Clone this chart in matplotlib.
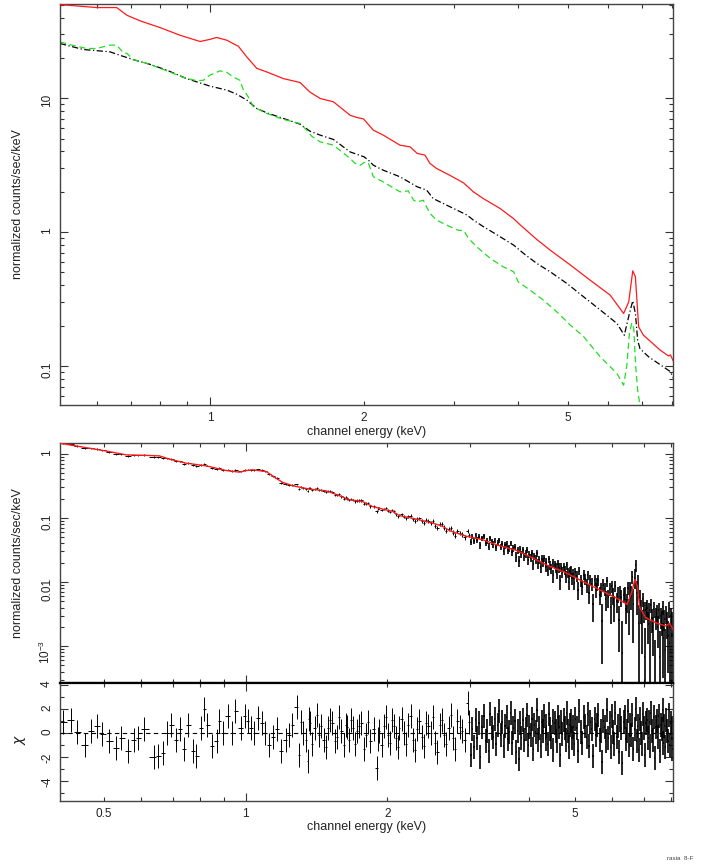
import numpy as np
import matplotlib
matplotlib.use('Agg')
import matplotlib.pyplot as plt
from matplotlib.ticker import FixedLocator, FuncFormatter, NullFormatter

plt.rcParams['font.family'] = ['Liberation Sans', 'DejaVu Sans']
plt.rcParams['mathtext.fontset'] = 'custom'
plt.rcParams['mathtext.rm'] = 'Liberation Sans'

# ---------------- top panel: model components ----------------
red_E = [0.509, 0.60, 0.657, 0.688, 0.730, 0.798, 0.874, 0.956, 1.0, 1.03, 1.078, 1.136, 1.18, 1.234,
         1.291, 1.391, 1.499, 1.568, 1.641, 1.742, 1.878, 1.935, 1.995, 2.085, 2.18, 2.35, 2.46, 2.54,
         2.63, 2.69, 2.77, 2.94, 3.13, 3.27, 3.42, 3.69, 3.92, 4.04, 4.35, 4.62, 5.06, 5.53, 6.05,
         6.43, 6.58, 6.70, 6.78, 6.88, 7.03, 7.58, 7.87, 7.94, 8.05]
red_v = [50.0, 47.5, 47.5, 41.6, 37.8, 33.7, 29.5, 26.5, 27.5, 28.4, 27.1, 24.4, 20.3, 16.7,
         15.7, 14.0, 13.1, 11.1, 9.95, 9.4, 7.46, 7.18, 7.0, 5.77, 5.3, 4.46, 4.33, 3.87,
         3.76, 3.26, 2.99, 2.66, 2.33, 2.0, 1.78, 1.50, 1.26, 1.13, 0.882, 0.734, 0.568, 0.438, 0.339,
         0.247, 0.302, 0.514, 0.464, 0.196, 0.170, 0.1315, 0.119, 0.121, 0.108]

blk_E = [0.509, 0.565, 0.637, 0.667, 0.708, 0.763, 0.823, 0.900, 1.0, 1.078, 1.128, 1.18, 1.234, 1.291,
         1.391, 1.499, 1.568, 1.641, 1.742, 1.878, 2.0, 2.04, 2.085, 2.18, 2.35, 2.54, 2.65, 2.73, 2.94,
         3.18, 3.27, 3.42, 3.69, 3.92, 4.10, 4.35, 4.62, 4.98, 5.37, 5.79, 6.24, 6.45, 6.60, 6.70, 6.78,
         6.85, 6.92, 7.2, 7.68, 7.93, 8.05]
blk_v = [25.6, 23.1, 22.2, 20.9, 19.4, 17.9, 16.2, 14.0, 12.3, 11.5, 10.7, 9.67, 8.38, 7.77,
         7.06, 6.40, 5.67, 5.30, 4.92, 3.97, 3.65, 3.44, 3.16, 2.90, 2.59, 2.18, 2.06, 1.78, 1.55,
         1.34, 1.23, 1.10, 0.923, 0.80, 0.693, 0.584, 0.506, 0.414, 0.329, 0.262, 0.208, 0.170, 0.247,
         0.307, 0.247, 0.156, 0.135, 0.117, 0.099, 0.091, 0.081]

grn_E = [0.509, 0.537, 0.574, 0.60, 0.637, 0.657, 0.677, 0.688, 0.708, 0.763, 0.823, 0.887, 0.942, 0.970,
         1.0, 1.046, 1.078, 1.11, 1.144, 1.161, 1.188, 1.215, 1.291, 1.391, 1.499, 1.545, 1.58, 1.641,
         1.742, 1.878, 1.92, 1.965, 2.01, 2.04, 2.085, 2.18, 2.35, 2.44, 2.50, 2.54, 2.61, 2.69, 2.77,
         2.94, 3.06, 3.13, 3.20, 3.32, 3.53, 3.74, 3.86, 3.92, 4.0, 4.22, 4.48, 4.76, 5.06, 5.37, 5.79,
         6.24, 6.43, 6.52, 6.60, 6.67, 6.73, 6.79, 6.85, 6.92, 6.97]
grn_v = [26.3, 24.9, 23.5, 23.5, 24.9, 24.9, 21.8, 21.6, 19.4, 17.9, 16.0, 14.3, 13.5, 13.6,
         14.9, 16.0, 15.6, 14.4, 13.6, 11.6, 10.2, 8.61, 7.69, 6.94, 6.47, 5.77, 5.20, 4.72,
         4.46, 3.55, 3.26, 3.16, 3.35, 3.26, 2.59, 2.37, 2.0, 2.03, 1.73, 1.68, 1.73, 1.38, 1.23,
         1.10, 1.03, 1.03, 0.897, 0.777, 0.636, 0.551, 0.52, 0.506, 0.426, 0.369, 0.311, 0.254, 0.202,
         0.166, 0.117, 0.088, 0.072, 0.099, 0.175, 0.210, 0.191, 0.099, 0.066, 0.051, 0.03]

# ---------------- middle panel: folded model ----------------
mod_E = [0.404, 0.445, 0.499, 0.559, 0.606, 0.657, 0.690, 0.749, 0.825, 0.910, 0.971, 1.003, 1.036,
         1.106, 1.16, 1.20, 1.26, 1.367, 1.48, 1.53, 1.66, 1.77, 1.86, 1.95, 2.05, 2.12, 2.30, 2.49,
         2.62, 2.71, 2.94, 3.18, 3.45, 3.75, 4.06, 4.41, 4.78, 5.18, 5.62, 6.10, 6.45, 6.59, 6.70,
         6.78, 6.86, 7.06, 7.41, 7.79, 7.94, 8.07]
mod_v = [1.47, 1.30, 1.13, 0.965, 0.953, 0.931, 0.827, 0.716, 0.651, 0.550, 0.519, 0.550, 0.564,
         0.531, 0.419, 0.358, 0.318, 0.282, 0.266, 0.245, 0.193, 0.181, 0.151, 0.138, 0.127, 0.109,
         0.0964, 0.0836, 0.0741, 0.0634, 0.0518, 0.046, 0.0371, 0.0314, 0.0239, 0.0177, 0.0140,
         0.0103, 0.00767, 0.0057, 0.00449, 0.00682, 0.011, 0.00863, 0.00398, 0.00279, 0.00233,
         0.00206, 0.00227, 0.00183]

# ---------------- residuals (chi) ----------------
res_E_lo = [0.409, 0.427, 0.438, 0.456, 0.471, 0.485, 0.497, 0.514, 0.531, 0.545,
            0.563, 0.579, 0.592, 0.608, 0.639, 0.653, 0.668, 0.682, 0.694, 0.713,
            0.725, 0.741, 0.756, 0.773, 0.786, 0.804, 0.818, 0.830, 0.849, 0.868,
            0.877, 0.896, 0.916, 0.936, 0.952, 0.978, 0.995, 1.010, 1.026, 1.044,
            1.062, 1.086, 1.102, 1.119, 1.144, 1.164, 1.190, 1.216, 1.237, 1.256,
            1.284, 1.299, 1.327, 1.356, 1.371, 1.401, 1.432, 1.464, 1.496, 1.529,
            1.563, 1.597, 1.633, 1.657, 1.687, 1.724, 1.762, 1.800, 1.840, 1.901,
            1.922, 1.965, 2.008, 2.043, 2.088, 2.120, 2.167, 2.215, 2.264, 2.314,
            2.365, 2.417, 2.471, 2.525, 2.581, 2.638, 2.696, 2.755, 2.816, 2.878,
            2.960, 3.006]
res_chi_lo = [0.9, 1.1, 0.1, -1.0, 0.15, 0.6, -0.05, -0.65, -1.25, -0.4,
              -1.5, -0.55, -0.4, 0.3, -2.0, -1.95, -1.7, 0.0, 0.7, -0.55,
              0.3, -1.3, 0.7, -1.5, -1.9, 0.45, 2.0, 0.7, -1.1, -0.7,
              1.0, 0.0, 1.4, 0.0, 1.8, 0.4, 1.4, 1.0, 0.45, 0.0,
              1.25, 0.85, 0.0, -1.0, -0.3, 0.3, -1.5, -0.55, -0.15, 0.7,
              2.2, -1.8, 0.0, -2.35, 0.85, 0.4, -0.15, -0.55, 0.4, 0.85,
              -0.3, 0.15, 0.7, -0.55, 0.4, 0.15, 0.85, -0.15, -0.7, -2.9,
              0.15, 0.55, -0.15, 1.1, -0.4, 0.4, 0.0, 0.7, -0.55, 0.3,
              -0.3, 0.85, 0.0, -0.85, 0.7, -0.15, 0.4, -0.4, 1.0, 0.15,
              2.5, -1.8]

res_E_mid = [1.313, 1.341, 1.363, 1.386, 1.416, 1.448, 1.480, 1.512, 1.546, 1.580,
             1.615, 1.645, 1.672, 1.705, 1.743, 1.781, 1.820, 1.870, 1.911, 1.943,
             1.986, 2.025, 2.065, 2.104, 2.143, 2.191, 2.239, 2.289, 2.339, 2.391,
             2.444, 2.498, 2.553, 2.609, 2.667, 2.725, 2.785, 2.847, 2.919, 2.983]
res_chi_mid = [0.9, -0.6, 1.2, -0.9, 1.5, 0.6, -1.2, 1.1, -0.7, 1.3,
               -1.0, 0.5, 1.1, -0.9, 0.6, -1.3, 0.9, 0.3, -0.5, -1.0,
               1.3, -0.8, 0.6, -1.2, 1.2, -0.9, 1.4, -1.4, 1.0, -1.1,
               0.6, 1.3, -1.6, 1.1, -0.9, 1.5, -1.3, 0.5, -0.6, 0.9]

res_E_hi = [3.03, 3.05, 3.08, 3.10, 3.13, 3.15, 3.18, 3.20, 3.23, 3.25,
            3.28, 3.30, 3.33, 3.35, 3.38, 3.40, 3.43, 3.45, 3.48, 3.50,
            3.53, 3.55, 3.58, 3.60, 3.63, 3.65, 3.68, 3.70, 3.73, 3.75,
            3.78, 3.80, 3.83, 3.85, 3.88, 3.90, 3.93, 3.95, 3.98, 4.00,
            4.03, 4.05, 4.08, 4.10, 4.13, 4.15, 4.18, 4.20, 4.23, 4.25,
            4.28, 4.30, 4.33, 4.35, 4.38, 4.40, 4.43, 4.45, 4.48, 4.50,
            4.53, 4.55, 4.58, 4.60, 4.63, 4.65, 4.68, 4.70, 4.73, 4.75,
            4.78, 4.80, 4.83, 4.85, 4.88, 4.90, 4.93, 4.95, 4.98, 5.01,
            5.04, 5.08, 5.11, 5.15, 5.18, 5.22, 5.25, 5.29, 5.32, 5.36,
            5.39, 5.43, 5.46, 5.50, 5.53, 5.57, 5.60, 5.64, 5.67, 5.71,
            5.74, 5.78, 5.81, 5.85, 5.88, 5.92, 5.95, 5.99, 6.02, 6.06,
            6.09, 6.13, 6.16, 6.20, 6.23, 6.27, 6.30, 6.34, 6.37, 6.41,
            6.44, 6.48, 6.51, 6.55, 6.58, 6.62, 6.65, 6.69, 6.72, 6.76,
            6.79, 6.83, 6.86, 6.90, 6.93, 6.97, 7.00, 7.04, 7.07, 7.11,
            7.14, 7.18, 7.21, 7.25, 7.28, 7.32, 7.35, 7.39, 7.42, 7.46,
            7.49, 7.53, 7.56, 7.60, 7.63, 7.67, 7.70, 7.74, 7.77, 7.81,
            7.84, 7.88, 7.91, 7.95, 7.98, 8.02, 8.05]
res_chi_hi = [0.3, -1.2, 1.1, -0.4, 0.8, -2.0, 0.5, 1.4, -0.7, 0.2,
              -1.5, 1.6, 0.4, -0.3, 1.2, -0.9, 0.7, 1.8, -0.2, 0.9,
              -1.1, 0.6, 1.3, -0.5, 0.1, 1.7, -0.8, 0.4, 1.0, -1.6,
              0.2, -2.2, 0.8, -0.4, 1.1, -0.6, 0.3, 1.5, -1.0, 0.5,
              -0.2, 1.2, -1.3, 0.7, 0.1, 1.9, -0.6, 0.4, -1.1, 0.9,
              0.2, 1.4, -0.5, 0.6, -0.9, 1.6, 0.3, -0.3, 1.0, -1.4,
              0.8, 0.2, -0.7, 1.3, 0.5, -1.8, 0.9, -0.1, 1.1, 0.4,
              -0.6, 1.7, 0.2, -1.2, 0.7, 1.0, -0.4, 0.5, -0.9, 1.2,
              0.4, -1.5, 1.8, 0.1, -0.8, 1.3, 0.6, -0.3, 1.6, -1.1,
              0.9, 0.3, -1.9, 1.2, -0.2, 0.7, 1.5, -0.6, 0.2, -2.4,
              1.0, 0.5, -0.7, 1.9, -0.4, 0.8, -1.2, 1.4, 0.1, -0.9,
              1.7, -0.3, 0.6, -1.6, 1.1, 0.4, -2.5, 0.9, 1.3, -0.5,
              0.2, 1.8, -1.0, 0.7, -0.2, 1.5, -1.3, 0.3, 2.0, -0.7,
              0.6, -1.4, 1.2, 0.0, -0.9, 1.6, 0.4, -1.8, 0.8, 1.1,
              -0.4, 0.9, -1.1, 1.7, 0.2, -0.6, 1.3, -2.1, 0.5, 1.0,
              -0.3, 1.4, -1.5, 0.7, 0.3, 1.9, -0.8, 0.6, -1.2, 1.1,
              0.2, -0.7, 1.5, -1.0, 0.8, 0.4, -1.3]

# fractional 1-sigma error of the data (in middle panel)
err_E = [0.4, 1.0, 2.0, 3.0, 4.0, 5.0, 6.0, 7.0, 8.1]
err_frac = [0.025, 0.03, 0.045, 0.09, 0.14, 0.2, 0.3, 0.42, 0.5]

# ---------------- derived quantities ----------------
res_E = np.array(res_E_lo + res_E_mid + res_E_hi)
res_chi = np.array(res_chi_lo + res_chi_mid + res_chi_hi)
order = np.argsort(res_E)
res_E = res_E[order]
res_chi = res_chi[order]
lE = np.log10(res_E)
mids = 0.5 * (lE[1:] + lE[:-1])
edges = np.concatenate([[lE[0] - (mids[0] - lE[0])], mids, [lE[-1] + (lE[-1] - mids[-1])]])
xlo = res_E - 10 ** edges[:-1]
xhi = 10 ** edges[1:] - res_E

model_at = 10 ** np.interp(lE, np.log10(mod_E), np.log10(mod_v))
frac = np.interp(lE, np.log10(err_E), err_frac)
sigma = frac * model_at
data = np.maximum(model_at + res_chi * sigma, 0.08 * model_at)
ylo = np.minimum(sigma, data - 1e-6)
yhi = sigma
dense = res_E > 3.0

# ---------------- figure ----------------
W, H = 701, 867
fig = plt.figure(figsize=(W / 100, H / 100), dpi=100)
L, R = 60, 673
ax1 = fig.add_axes([L / W, 1 - 405 / H, (R - L) / W, (405 - 4) / H])
ax2 = fig.add_axes([L / W, 1 - 683 / H, (R - L) / W, (683 - 443) / H])
ax3 = fig.add_axes([L / W, 1 - 801 / H, (R - L) / W, (801 - 683) / H])

tc = '#333333'
for ax in (ax1, ax2, ax3):
    for s in ax.spines.values():
        s.set_color('#444444')
        s.set_linewidth(1.0)
    ax.tick_params(which='both', direction='in', top=True, right=True, color=tc,
                   labelsize=8.5, labelcolor='#222222', width=0.8)
    ax.tick_params(which='major', length=6)
    ax.tick_params(which='minor', length=3)
    ax.tick_params(axis='y', which='both', labelrotation=90, pad=5)
    ax.tick_params(axis='x', which='both', pad=5)

ax2.spines['bottom'].set_color('black')
ax2.spines['bottom'].set_linewidth(1.6)
ax3.spines['top'].set_color('black')
ax3.spines['top'].set_linewidth(1.6)


def xlab(v, pos):
    for t, s in ((0.5, '0.5'), (1, '1'), (2, '2'), (5, '5')):
        if abs(v - t) < 1e-6:
            return s
    return ''


# top panel
ax1.plot(red_E, red_v, color='#ff1a1a', lw=0.9, zorder=3)
ax1.plot(blk_E, blk_v, color='black', lw=0.9, ls=(0, (5, 2, 1, 2)), zorder=2)
ax1.plot(grn_E, grn_v, color='#22dd22', lw=0.9, ls=(0, (5, 3)), zorder=2)
ax1.set_xscale('log')
ax1.set_yscale('log')
ax1.set_xlim(0.509, 8.03)
ax1.set_ylim(0.0512, 50.5)
ax1.xaxis.set_major_locator(FixedLocator([1]))
ax1.xaxis.set_minor_locator(FixedLocator([0.6, 0.7, 0.8, 0.9, 2, 3, 4, 5, 6, 7, 8]))
ax1.xaxis.set_major_formatter(FuncFormatter(xlab))
ax1.xaxis.set_minor_formatter(FuncFormatter(xlab))
ax1.yaxis.set_major_locator(FixedLocator([0.1, 1, 10]))
ax1.yaxis.set_minor_locator(FixedLocator([0.06, 0.07, 0.08, 0.09] + [0.1 * k for k in range(2, 10)]
                                         + list(range(2, 10)) + [20, 30, 40, 50]))
ax1.yaxis.set_major_formatter(FuncFormatter(lambda v, p: {0.1: '0.1', 1: '1', 10: '10'}.get(round(v, 3), '')))
ax1.yaxis.set_minor_formatter(NullFormatter())
ax1.set_xlabel('channel energy (keV)', fontsize=9, color='#222222')
ax1.xaxis.set_label_coords(0.5, -0.052)
ax1.set_ylabel('normalized counts/sec/keV', fontsize=9, color='#222222')
ax1.yaxis.set_label_coords(-0.058, 0.5)

# middle panel
xr = (0.404, 8.07)
for m, lw in ((~dense, 0.7), (dense, 1.2)):
    ax2.errorbar(res_E[m], data[m], yerr=[ylo[m], yhi[m]], xerr=[xlo[m], xhi[m]], fmt='none',
                 ecolor='black', elinewidth=lw, capsize=0, zorder=2)
ax2.plot(mod_E, mod_v, color='#ff1a1a', lw=1.0, zorder=3)
ax2.set_xscale('log')
ax2.set_yscale('log')
ax2.set_xlim(*xr)
ax2.set_ylim(2.66e-4, 1.48)
ax2.xaxis.set_major_locator(FixedLocator([1]))
ax2.xaxis.set_minor_locator(FixedLocator([0.5, 0.6, 0.7, 0.8, 0.9, 2, 3, 4, 5, 6, 7, 8]))
ax2.xaxis.set_major_formatter(NullFormatter())
ax2.xaxis.set_minor_formatter(NullFormatter())
ax2.yaxis.set_major_locator(FixedLocator([1e-3, 1e-2, 0.1, 1]))
mn = []
for d in (1e-4, 1e-3, 1e-2, 0.1):
    mn += [d * k for k in range(2, 10)]
ax2.yaxis.set_minor_locator(FixedLocator(mn))
ylabs2 = {1e-3: r'$\mathregular{10^{-3}}$', 1e-2: '0.01', 0.1: '0.1', 1: '1'}


def y2fmt(v, p):
    for k, s in ylabs2.items():
        if abs(np.log10(v) - np.log10(k)) < 1e-6:
            return s
    return ''


ax2.yaxis.set_major_formatter(FuncFormatter(y2fmt))
ax2.yaxis.set_minor_formatter(NullFormatter())
ax2.set_ylabel('normalized counts/sec/keV', fontsize=9, color='#222222')
ax2.yaxis.set_label_coords(-0.058, 0.5)

# residual panel
for m, lw in ((~dense, 0.7), (dense, 1.2)):
    ax3.errorbar(res_E[m], res_chi[m], yerr=1.0, xerr=[xlo[m], xhi[m]], fmt='none', ecolor='black',
                 elinewidth=lw, capsize=0, zorder=2)
ax3.axhline(0, color='black', lw=0.8, ls=(0, (4, 3)), zorder=3)
ax3.set_xscale('log')
ax3.set_xlim(*xr)
ax3.set_ylim(-5.67, 4.17)
ax3.xaxis.set_major_locator(FixedLocator([1]))
ax3.xaxis.set_minor_locator(FixedLocator([0.5, 0.6, 0.7, 0.8, 0.9, 2, 3, 4, 5, 6, 7, 8]))
ax3.xaxis.set_major_formatter(FuncFormatter(xlab))
ax3.xaxis.set_minor_formatter(FuncFormatter(xlab))
ax3.yaxis.set_major_locator(FixedLocator([-4, -2, 0, 2, 4]))
ax3.yaxis.set_minor_locator(FixedLocator([-5, -3, -1, 1, 3]))
ax3.yaxis.set_major_formatter(FuncFormatter(lambda v, p: '%d' % v))
ax3.set_xlabel('channel energy (keV)', fontsize=9, color='#222222')
ax3.xaxis.set_label_coords(0.5, -0.17)
ax3.set_ylabel(r'$\chi$', fontsize=10, color='#222222')
ax3.yaxis.set_label_coords(-0.052, 0.52)

fig.text(680 / W, 1 - 858 / H, 'rasia  8-F', fontsize=4.5, ha='center', va='center', color='#444444')

fig.savefig('out.png', dpi=100)
